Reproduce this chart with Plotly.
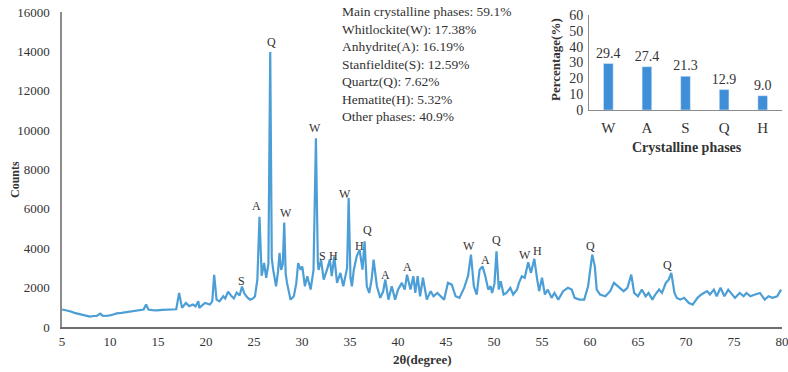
import plotly.graph_objects as go

# ---- XRD pattern ----
two_theta = [5.0, 5.4, 5.83, 6.3, 6.9, 7.4, 7.9, 8.3, 8.6, 8.8, 9.0, 9.2, 9.6, 10.1, 10.7, 11.2, 11.75, 12.3, 12.8, 13.2,
             13.5, 13.76, 14.0, 14.4, 14.9, 15.4, 15.9, 16.4, 16.9, 17.2, 17.5, 17.9, 18.25, 18.65, 18.9, 19.2, 19.3, 19.6, 19.9, 20.4,
             20.65, 20.85, 21.1, 21.4, 21.8, 22.0, 22.3, 22.6, 22.9, 23.2, 23.5, 23.75, 24.0, 24.3, 24.6, 24.9, 25.1, 25.35, 25.57, 25.8,
             26.05, 26.27, 26.5, 26.69, 26.85, 27.0, 27.3, 27.5, 27.66, 27.83, 28.0, 28.15, 28.3, 28.44, 28.8, 29.15, 29.4, 29.6, 29.86, 30.03,
             30.3, 30.55, 30.9, 31.2, 31.45, 31.65, 31.73, 31.98, 32.26, 32.6, 32.9, 33.1, 33.36, 33.65, 34.0, 34.3, 34.5, 34.7, 34.86, 35.05,
             35.2, 35.4, 35.7, 36.0, 36.3, 36.52, 36.75, 37.0, 37.25, 37.46, 37.8, 38.15, 38.45, 38.68, 39.0, 39.35, 39.7, 40.0, 40.4, 40.7,
             40.94, 41.3, 41.6, 41.8, 42.05, 42.3, 42.6, 43.0, 43.4, 43.7, 44.1, 44.4, 44.8, 45.2, 45.6, 46.0, 46.4, 46.9, 47.3, 47.6,
             47.9, 48.2, 48.5, 48.8, 49.1, 49.4, 49.65, 49.8, 50.05, 50.26, 50.5, 50.7, 51.0, 51.3, 51.7, 52.0, 52.4, 52.6, 52.9, 53.2,
             53.56, 53.85, 54.2, 54.5, 54.7, 55.0, 55.3, 55.6, 56.0, 56.3, 56.7, 57.2, 57.7, 58.1, 58.4, 58.9, 59.4, 59.8, 60.0, 60.23,
             60.5, 60.7, 61.05, 61.6, 62.1, 62.5, 63.1, 63.5, 63.9, 64.3, 64.6, 65.0, 65.4, 65.8, 66.1, 66.5, 66.8, 67.2, 67.5, 67.9,
             68.2, 68.47, 68.8, 69.05, 69.4, 69.8, 70.3, 70.7, 71.2, 71.6, 72.2, 72.5, 72.9, 73.2, 73.6, 74.0, 74.4, 74.8, 75.1, 75.6,
             76.0, 76.3, 76.7, 77.2, 77.7, 78.2, 78.6, 79.0, 79.5, 79.9]
counts = [890, 850, 800, 720, 640, 580, 530, 560, 560, 620, 680, 580, 560, 600, 690, 720, 760, 790, 810, 840,
          890, 1140, 890, 860, 840, 870, 890, 880, 900, 1730, 970, 1220, 1060, 1140, 1050, 1310, 970, 1100, 1220, 1140,
          1300, 2650, 1390, 1300, 1560, 1450, 1800, 1600, 1450, 1750, 1600, 2050, 1700, 1500, 1390, 1450, 1560, 2400, 5600, 2600,
          3250, 2500, 3200, 13970, 3500, 2900, 2070, 2800, 3760, 2900, 3200, 5310, 2700, 2240, 1390, 1560, 2200, 3250, 2900, 3080,
          2070, 2580, 1900, 2900, 9590, 3300, 2900, 3420, 2410, 2900, 3420, 2580, 3590, 2240, 2750, 2070, 2580, 3000, 6550, 2500,
          2070, 2910, 3590, 3930, 2910, 4350, 2070, 1730, 2400, 3420, 2070, 1480, 1800, 2410, 1390, 2070, 1390, 1900, 2240, 1900,
          2660, 1900, 2580, 1730, 2580, 1560, 2500, 1390, 1820, 1560, 1730, 1560, 1390, 2240, 2150, 1560, 1480, 2000, 2600, 3680,
          2070, 1650, 2910, 3080, 2580, 1900, 2070, 1730, 2200, 3850, 1900, 2330, 1650, 1730, 1990, 1650, 1900, 2240, 2580, 2500,
          3290, 2750, 3460, 2410, 1820, 2500, 1650, 1900, 1480, 1730, 1390, 1820, 1990, 1900, 1480, 1390, 1390, 2070, 2900, 3680,
          3080, 1900, 1650, 1560, 1820, 2240, 1990, 1820, 1990, 2660, 1730, 1560, 1900, 1560, 1730, 1390, 1650, 1900, 1730, 2240,
          2400, 2750, 1730, 1480, 1390, 1480, 1220, 1140, 1480, 1650, 1820, 1650, 1900, 1560, 1990, 1560, 1900, 1650, 1480, 1730,
          1560, 1730, 1560, 1650, 1730, 1390, 1560, 1480, 1560, 1900]

# ---- peak labels ----
peak_text = ["S", "A", "Q", "W", "W", "S", "H", "W", "H", "Q", "A", "A", "W", "A", "Q", "W", "H", "Q", "Q"]
peak_x = [23.74, 25.3, 26.87, 28.36, 31.38, 32.14, 33.29, 34.5, 36.0, 36.84, 38.71, 41.0, 47.4, 49.1, 50.26, 53.2, 54.5, 60.1, 68.05]
peak_y = [2320, 6160, 14460, 5790, 10100, 3620, 3620, 6750, 4100, 4910, 2660, 3050, 4100, 3420, 4440, 3680, 3850, 4130, 3170]

# ---- inset bar chart ----
phases = ["W", "A", "S", "Q", "H"]
percentages = [29.4, 27.4, 21.3, 12.9, 9.0]

x_ticks = [5, 10, 15, 20, 25, 30, 35, 40, 45, 50, 55, 60, 65, 70, 75, 80]
y_ticks = [0, 2000, 4000, 6000, 8000, 10000, 12000, 14000, 16000]

phase_lines = ["Main crystalline phases: 59.1%", "Whitlockite(W): 17.38%", "Anhydrite(A): 16.19%",
               "Stanfieldite(S): 12.59%", "Quartz(Q): 7.62%", "Hematite(H): 5.32%", "Other phases: 40.9%"]

SERIF = "Liberation Serif"
TXT = "#333333"
AX = "#8c8c8c"

fig = go.Figure()
fig.add_trace(go.Scatter(x=two_theta, y=counts, mode="lines",
                         line=dict(color="#4C9ED6", width=2.2), showlegend=False,
                         xaxis="x", yaxis="y"))
fig.add_trace(go.Bar(x=phases, y=percentages, marker_color="#3F8FD8",
                     text=[f"{v:.1f}" for v in percentages], textposition="outside",
                     constraintext="none",
                     textfont=dict(family=SERIF, size=14, color=TXT), cliponaxis=False,
                     outsidetextfont=dict(family=SERIF, size=14, color=TXT),
                     showlegend=False, xaxis="x2", yaxis="y2"))

annotations = []
for t, px, py in zip(peak_text, peak_x, peak_y):
    annotations.append(dict(x=px, y=py, xref="x", yref="y", text=t, showarrow=False,
                            xanchor="center", yanchor="middle",
                            font=dict(family=SERIF, size=12, color=TXT)))

annotations.append(dict(x=(340 - 62) / 720, y=(327 - 2) / 315, xref="paper", yref="paper", xanchor="left", yanchor="top",
                        align="left", text="<br>".join(phase_lines), showarrow=False,
                        font=dict(family=SERIF, size=13.5, color=TXT)))
# axis titles
annotations.append(dict(x=(15 - 62) / 720, y=(327 - 180) / 315, xref="paper", yref="paper", text="<b>Counts</b>",
                        xanchor="center", yanchor="middle",
                        textangle=-90, showarrow=False, font=dict(family=SERIF, size=12, color=TXT)))
annotations.append(dict(x=(422 - 62) / 720, y=(327 - 359) / 315, xref="paper", yref="paper", text="<b>2θ(degree)</b>",
                        xanchor="center", yanchor="middle",
                        showarrow=False, font=dict(family=SERIF, size=13, color=TXT)))
annotations.append(dict(x=(555 - 62) / 720, y=(327 - 60) / 315, xref="paper", yref="paper", text="<b>Percentage(%)</b>",
                        xanchor="center", yanchor="middle",
                        textangle=-90, showarrow=False, font=dict(family=SERIF, size=13, color=TXT)))
annotations.append(dict(x=(687 - 62) / 720, y=(327 - 147) / 315, xref="paper", yref="paper", text="<b>Crystalline phases</b>",
                        xanchor="center", yanchor="middle",
                        showarrow=False, font=dict(family=SERIF, size=14, color=TXT)))

fig.update_layout(
    width=788, height=372,
    margin=dict(l=62, r=6, t=12, b=45, autoexpand=False),
    paper_bgcolor="white", plot_bgcolor="rgba(0,0,0,0)",
    showlegend=False,
    bargap=0.75,
    annotations=annotations,
    xaxis=dict(domain=[0, 1], range=[4.999, 80.001], tickmode="array", tickvals=x_ticks,
               ticktext=[str(v) for v in x_ticks], ticklabeloverflow="allow", automargin=False,
               showgrid=False, zeroline=False, showline=True, linecolor="#6e6e6e", linewidth=1.5,
               ticks="outside", ticklen=2, tickcolor="rgba(0,0,0,0)",
               tickfont=dict(family=SERIF, size=13, color=TXT)),
    yaxis=dict(domain=[0, 1], range=[0, 16000], tickmode="array", tickvals=y_ticks,
               ticktext=[str(v) for v in y_ticks], automargin=False,
               showgrid=False, zeroline=False, showline=True, linecolor=AX, linewidth=1.5,
               ticks="outside", ticklen=8, tickcolor="rgba(0,0,0,0)",
               tickfont=dict(family=SERIF, size=13, color=TXT)),
    xaxis2=dict(domain=[0.732, 1.0], anchor="y2", showgrid=False, zeroline=False, automargin=False,
                showline=True, linecolor=AX, linewidth=1.2,
                ticks="outside", ticklen=4, tickcolor="rgba(0,0,0,0)",
                tickfont=dict(family=SERIF, size=15, color=TXT)),
    yaxis2=dict(domain=[0.689, 0.99], anchor="x2", range=[0, 60], tickmode="linear", tick0=0, dtick=10,
                showgrid=False, zeroline=False, showline=True, linecolor=AX, linewidth=1.2, automargin=False,
                ticks="outside", ticklen=2, tickcolor="rgba(0,0,0,0)",
                tickfont=dict(family=SERIF, size=14, color=TXT)),
)

fig.write_html("out.html")
